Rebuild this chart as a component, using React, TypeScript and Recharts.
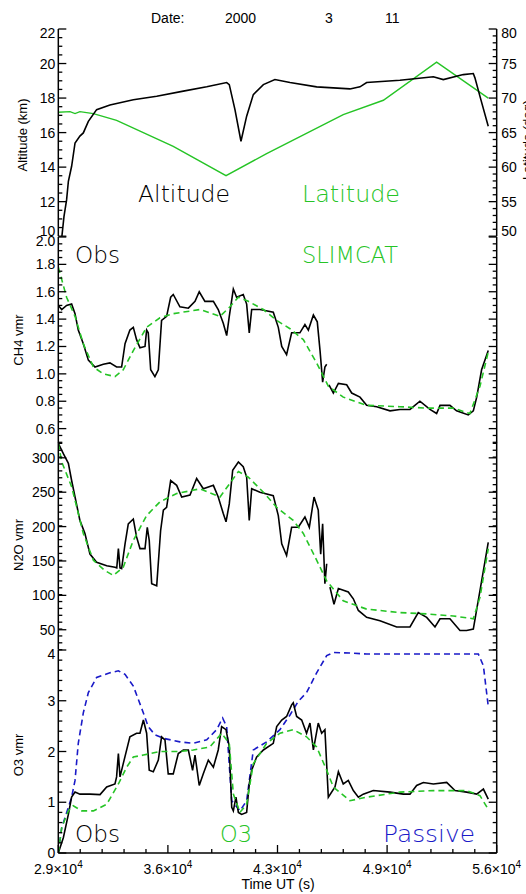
import React from "react";
import { LineChart, Line, XAxis, YAxis } from "recharts";

type P = [number, number | null];

// time in kiloseconds (UT), value
const ALTITUDE_KM: P[] = [
  [29.21, 9.9], [29.35, 11.15], [29.51, 12.1], [29.62, 13.18], [29.82, 14.05], [30.03, 15.4], [30.33, 15.8],
  [30.54, 15.98], [30.85, 16.65], [31.36, 17.33], [32.18, 17.6], [33.62, 17.9], [35.06, 18.1],
  [36.7, 18.4], [38.14, 18.65], [39.37, 18.9], [39.53, 18.78], [39.88, 17.33], [40.25, 15.5],
  [40.6, 16.95], [41.01, 18.2], [41.63, 18.78], [42.34, 19.07], [43.27, 18.9], [44.91, 18.65],
  [46.96, 18.53], [47.58, 18.65], [47.99, 18.9], [50.04, 19.03], [52.1, 19.23], [52.71, 19.07],
  [53.94, 19.36], [54.56, 19.42], [54.66, 19.17], [54.97, 18.1], [55.48, 16.37],
];

const LATITUDE_DEG: P[] = [
  [29.0, 67.94], [29.72, 68.04], [30.03, 67.75], [30.33, 68.04], [31.16, 67.75], [32.59, 66.78],
  [36.08, 63.0], [39.33, 58.77], [41.83, 61.95], [46.55, 67.6], [49.02, 69.68], [52.3, 75.2],
  [55.48, 70.0],
];

const CH4_OBS: P[] = [
  [29.0, 1.5], [29.21, 1.47], [29.51, 1.5], [29.82, 1.51], [30.03, 1.44], [30.23, 1.32], [30.54, 1.22],
  [30.85, 1.1], [31.26, 1.05], [31.77, 1.07], [32.18, 1.08], [32.59, 1.05], [32.9, 1.05], [33.11, 1.22],
  [33.41, 1.32], [33.62, 1.34], [33.82, 1.25], [34.03, 1.19], [34.34, 1.2], [34.44, 1.32], [34.54, 1.3],
  [34.69, 1.03], [34.95, 0.98], [35.16, 1.03], [35.36, 1.39], [35.67, 1.42], [35.92, 1.56], [36.08, 1.58],
  [36.49, 1.49], [37.01, 1.48], [37.42, 1.53], [37.68, 1.6], [38.03, 1.53], [38.55, 1.53], [38.85, 1.47],
  [39.16, 1.37], [39.37, 1.28], [39.53, 1.42], [39.78, 1.62], [39.98, 1.56], [40.39, 1.58], [40.6, 1.51],
  [40.76, 1.3], [40.91, 1.47], [41.42, 1.47], [42.24, 1.45], [42.55, 1.34], [42.76, 1.2], [43.06, 1.14],
  [43.37, 1.3], [43.88, 1.3], [44.19, 1.36], [44.4, 1.32], [44.71, 1.43], [44.95, 1.38], [45.12, 1.17],
  [45.28, 0.94], [45.42, 1.05], [45.53, 1.07], [45.6, null], [45.67, 0.92], [45.94, 0.86], [46.25, 0.93],
  [46.76, 0.92], [47.07, 0.86], [47.58, 0.83], [47.99, 0.77], [48.61, 0.76], [49.43, 0.73], [50.04, 0.74],
  [50.66, 0.74], [51.27, 0.8], [51.89, 0.74], [52.3, 0.71], [52.51, 0.77], [53.12, 0.77], [53.53, 0.73],
  [54.25, 0.7], [54.56, 0.73], [54.77, 0.83], [55.07, 1.03], [55.48, 1.17],
];

const CH4_SLIMCAT: P[] = [
  [29.0, 1.78], [29.51, 1.56], [30.03, 1.42], [30.54, 1.22], [31.16, 1.05], [31.77, 1.0], [32.49, 0.98],
  [33.0, 1.03], [33.62, 1.17], [34.44, 1.34], [35.26, 1.41], [36.08, 1.44], [37.73, 1.47], [38.96, 1.42],
  [39.57, 1.49], [40.09, 1.56], [40.7, 1.53], [41.63, 1.47], [42.45, 1.39], [43.27, 1.33], [44.09, 1.25],
  [44.91, 1.08], [45.63, 0.91], [46.55, 0.83], [47.99, 0.77], [50.04, 0.76], [51.69, 0.75], [53.33, 0.75],
  [54.35, 0.71], [54.97, 0.91], [55.48, 1.16],
];

const N2O_OBS: P[] = [
  [29.0, 321], [29.31, 306], [29.62, 292], [29.82, 267], [30.03, 243], [30.33, 209], [30.64, 190],
  [30.95, 160], [31.36, 148], [31.98, 143], [32.49, 141], [32.6, 140], [32.7, 168], [32.8, 140],
  [32.9, 139], [33.11, 175], [33.31, 204], [33.62, 211], [33.82, 185], [34.03, 168], [34.34, 168],
  [34.48, 199], [34.6, 180], [34.75, 117], [35.06, 114], [35.3, 194], [35.47, 224], [35.67, 228],
  [35.92, 267], [36.29, 260], [36.6, 243], [37.11, 246], [37.52, 270], [37.93, 255], [38.55, 260],
  [38.85, 243], [39.16, 219], [39.33, 207], [39.53, 233], [39.74, 282], [40.09, 294], [40.39, 287],
  [40.6, 272], [40.76, 209], [40.91, 255], [41.42, 250], [42.24, 245], [42.55, 216], [42.76, 175],
  [43.06, 158], [43.37, 199], [43.78, 199], [44.19, 214], [44.46, 199], [44.75, 243], [45.01, 224],
  [45.16, 160], [45.28, 204], [45.42, 117], [45.53, 146], [45.6, null], [45.73, 112], [45.98, 87],
  [46.25, 110], [46.86, 105], [47.17, 95], [47.48, 78], [47.99, 68], [48.81, 63], [49.84, 54],
  [50.66, 54], [51.17, 75], [51.69, 68], [52.2, 54], [52.51, 66], [53.12, 66], [53.74, 49], [54.15, 49],
  [54.56, 51], [54.97, 107], [55.48, 177],
];

const N2O_SLIMCAT: P[] = [
  [29.0, 321], [29.21, 294], [29.82, 258], [30.54, 190], [31.16, 151], [31.87, 136], [32.39, 129],
  [33.0, 141], [33.62, 180], [34.44, 216], [35.26, 236], [36.29, 248], [37.73, 255], [38.96, 243],
  [39.57, 263], [40.09, 280], [40.7, 272], [41.63, 250], [42.45, 228], [43.47, 209], [44.09, 190],
  [44.81, 156], [45.53, 121], [46.55, 92], [47.99, 80], [50.04, 75], [51.69, 73], [53.33, 70],
  [54.56, 66], [54.97, 97], [55.48, 168],
];

const O3_OBS: P[] = [
  [29.0, 0], [29.31, 0.3], [29.62, 0.76], [29.82, 1.1], [30.03, 1.2], [30.33, 1.16], [30.95, 1.16],
  [31.57, 1.15], [31.98, 1.3], [32.49, 1.36], [32.59, 1.5], [32.7, 1.96], [32.8, 1.5], [33.0, 1.76],
  [33.41, 2.29], [33.82, 2.36], [34.03, 2.36], [34.24, 2.62], [34.44, 2.36], [34.6, 1.63], [34.85, 1.6],
  [35.16, 1.83], [35.36, 2.29], [35.57, 2.23], [35.77, 1.56], [36.08, 1.56], [36.39, 1.96], [36.7, 2.03],
  [37.01, 2.03], [37.27, 1.63], [37.42, 1.93], [37.68, 1.33], [37.93, 1.56], [38.24, 1.83], [38.55, 1.69],
  [38.85, 2.03], [39.06, 2.49], [39.33, 2.43], [39.53, 2.09], [39.68, 0.9], [39.78, 0.83], [39.94, 1.1],
  [40.09, 0.8], [40.29, 0.76], [40.6, 0.8], [40.76, 1.36], [40.91, 1.63], [41.21, 1.89], [41.63, 2.03],
  [42.24, 2.16], [42.45, 2.49], [42.76, 2.62], [43.06, 2.69], [43.37, 2.92], [43.47, 2.96], [43.68, 2.69],
  [43.99, 2.62], [44.29, 2.36], [44.5, 2.56], [44.71, 2.03], [45.01, 2.56], [45.22, 2.36], [45.42, 2.43],
  [45.63, 1.1], [46.04, 1.3], [46.25, 1.6], [46.55, 1.36], [46.86, 1.43], [47.17, 1.23], [47.48, 1.1],
  [47.78, 1.16], [48.4, 1.23], [49.43, 1.2], [50.25, 1.16], [50.66, 1.16], [51.07, 1.33], [51.48, 1.39],
  [52.1, 1.36], [52.92, 1.39], [53.43, 1.23], [54.15, 1.2], [54.77, 1.16], [55.18, 1.26], [55.48, 1.06],
];

const O3_SLIMCAT: P[] = [
  [29.0, 0], [29.21, 0.5], [29.62, 0.83], [29.92, 0.93], [30.44, 0.83], [31.16, 0.83], [31.98, 0.96],
  [32.7, 1.36], [33.21, 1.69], [33.62, 1.89], [34.24, 1.93], [35.26, 2.0], [36.49, 2.0], [37.31, 2.03],
  [38.34, 2.09], [39.06, 2.36], [39.53, 2.16], [39.78, 1.16], [40.19, 0.8], [40.6, 0.96], [41.01, 1.76],
  [41.83, 2.16], [42.65, 2.36], [43.47, 2.43], [44.29, 2.29], [44.91, 2.09], [45.53, 1.63], [45.94, 1.3],
  [46.96, 1.03], [47.99, 1.1], [50.04, 1.2], [52.1, 1.23], [54.15, 1.23], [54.97, 1.13], [55.48, 0.86],
];

const O3_PASSIVE: P[] = [
  [29.0, 0], [29.21, 0.5], [29.62, 0.9], [29.82, 1.1], [30.03, 1.43], [30.23, 2.16], [30.54, 2.76],
  [30.85, 3.16], [31.36, 3.46], [32.18, 3.55], [32.7, 3.59], [33.11, 3.52], [33.62, 3.29], [34.24, 2.76],
  [34.54, 2.49], [34.95, 2.33], [35.47, 2.26], [36.49, 2.19], [37.31, 2.16], [38.14, 2.23], [38.75, 2.43],
  [39.12, 2.66], [39.37, 2.49], [39.68, 1.03], [40.19, 0.83], [40.6, 1.03], [41.01, 2.03], [41.83, 2.19],
  [42.65, 2.43], [43.27, 2.72], [43.78, 2.99], [44.29, 3.16], [44.91, 3.55], [45.53, 3.89], [45.94, 3.95],
  [46.96, 3.94], [47.99, 3.92], [50.04, 3.92], [52.1, 3.92], [54.87, 3.92], [55.18, 3.69], [55.48, 2.89],
];

const X_DOMAIN: [number, number] = [29000, 56000];
const X_TOP_MAJOR = [30000, 35000, 40000, 45000, 50000, 55000];
const X_LABEL_TICKS = [29000, 35750, 42500, 49250, 56000];
const X_LABELS = ["2.9", "3.6", "4.3", "4.9", "5.6"];

const ALT_MAJOR = [10, 12, 14, 16, 18, 20, 22];
const LAT_MAJOR = [50, 55, 60, 65, 70, 75, 80];
const CH4_MAJOR = [0.6, 0.8, 1.0, 1.2, 1.4, 1.6, 1.8, 2.0];
const N2O_MAJOR = [50, 100, 150, 200, 250, 300];
const O3_MAJOR = [0, 1, 2, 3, 4];

const GREEN = "#26c426";
const BLUE = "#1a1ac8";
const FONT = "'Liberation Sans', Arial, sans-serif";
const BIGFONT = "'DejaVu Sans', 'Liberation Sans', sans-serif";

const W = 526;
const LEFT_W = 58.3;
const RIGHT_W = 29.3;

function steps(a: number, b: number, s: number): number[] {
  const out: number[] = [];
  const n = Math.round((b - a) / s);
  for (let i = 0; i <= n; i++) out.push(+(a + i * s).toFixed(6));
  return out;
}

const rows = (pts: P[]) => pts.map(([t, v]) => ({ t: t * 1000, v }));

type Side = "left" | "right" | "top" | "bottom";

function makeTick(
  side: Side,
  majors: number[],
  label?: (v: number) => React.ReactNode,
  domain?: [number, number],
  shiftMin = true
) {
  return (props: any) => {
    const { x, y, payload } = props;
    const v = payload.value as number;
    const major = majors.some((m) => Math.abs(m - v) < 1e-6);
    const len = major ? 8 : 4;
    let line: React.ReactNode = null;
    if (side === "left") line = <line x1={x} x2={x + len} y1={y} y2={y} stroke="#000" strokeWidth={1.3} />;
    if (side === "right") line = <line x1={x} x2={x - len} y1={y} y2={y} stroke="#000" strokeWidth={1.3} />;
    if (side === "top") line = <line x1={x} x2={x} y1={y} y2={y + len} stroke="#000" strokeWidth={1.3} />;
    if (side === "bottom") line = <line x1={x} x2={x} y1={y} y2={y - len} stroke="#000" strokeWidth={1.3} />;
    let txt: React.ReactNode = null;
    if (major && label) {
      const content = label(v);
      let dy = 5;
      if (domain) {
        if (Math.abs(v - domain[1]) < 1e-6) dy += 4;
        if (shiftMin && Math.abs(v - domain[0]) < 1e-6) dy -= 5;
      }
      if (content !== null) {
        if (side === "left")
          txt = <text x={x - 3} y={y + dy} textAnchor="end" fontSize={14} fontFamily={FONT} fill="#000">{content}</text>;
        if (side === "right")
          txt = <text x={x + 4.5} y={y + dy} textAnchor="start" fontSize={14} fontFamily={FONT} fill="#000">{content}</text>;
        if (side === "bottom")
          txt = <text x={x} y={y + 20.5} textAnchor="middle" fontSize={14} fontFamily={FONT} fill="#000">{content}</text>;
      }
    }
    return (
      <g>
        {line}
        {txt}
      </g>
    );
  };
}

const AXIS_LINE = { stroke: "#000", strokeWidth: 1.5 };

interface PanelProps {
  top: number;
  plotH: number;
  yDomain: [number, number];
  yMajor: number[];
  yMinorStep: number;
  yFmt: (v: number) => string;
  rDomain?: [number, number];
  rMajor?: number[];
  rMinorStep?: number;
  bottomLabels?: boolean;
  children: React.ReactNode;
}

function Panel(p: PanelProps) {
  const bottomH = p.bottomLabels ? 42 : 0;
  const yTicks = steps(p.yDomain[0], p.yDomain[1], p.yMinorStep).filter((v) => v >= p.yDomain[0] - 1e-9);
  const yMinorAll = Array.from(new Set([...yTicks, ...p.yMajor.filter((m) => m >= p.yDomain[0] && m <= p.yDomain[1])])).sort((a, b) => a - b);
  const rDomain = p.rDomain || p.yDomain;
  const rMajor = p.rMajor || p.yMajor;
  const rTicks = p.rDomain
    ? steps(p.rDomain[0], p.rDomain[1], p.rMinorStep || 1)
    : yMinorAll;
  const topTicks = steps(29000, 56000, 1000);
  const botTicks = p.bottomLabels ? steps(29000, 56000, 1350) : topTicks;
  const botMajor = p.bottomLabels ? X_LABEL_TICKS : X_TOP_MAJOR;
  const xLabel = p.bottomLabels
    ? (v: number) => {
        const i = X_LABEL_TICKS.findIndex((m) => Math.abs(m - v) < 1e-6);
        return (
          <>
            {X_LABELS[i]}×10<tspan dy={-6} fontSize={10}>4</tspan>
          </>
        );
      }
    : undefined;
  const shiftMin = !p.bottomLabels;
  return (
    <div style={{ position: "absolute", left: 0, top: p.top }}>
      <LineChart width={W} height={p.plotH + bottomH} margin={{ top: 0, right: 0, bottom: 0, left: 0 }}>
        <XAxis
          xAxisId="b"
          dataKey="t"
          type="number"
          orientation="bottom"
          domain={X_DOMAIN}
          allowDataOverflow
          ticks={botTicks}
          interval={0}
          height={bottomH}
          tickSize={0}
          tickMargin={0}
          axisLine={AXIS_LINE}
          tickLine={false}
          tick={makeTick("bottom", botMajor, xLabel)}
        />
        <XAxis
          xAxisId="t"
          dataKey="t"
          type="number"
          orientation="top"
          domain={X_DOMAIN}
          allowDataOverflow
          ticks={topTicks}
          interval={0}
          height={0}
          tickSize={0}
          tickMargin={0}
          axisLine={AXIS_LINE}
          tickLine={false}
          tick={makeTick("top", X_TOP_MAJOR)}
        />
        <YAxis
          yAxisId="L"
          type="number"
          orientation="left"
          domain={p.yDomain}
          allowDataOverflow
          ticks={yMinorAll}
          interval={0}
          width={LEFT_W}
          tickSize={0}
          tickMargin={0}
          axisLine={AXIS_LINE}
          tickLine={false}
          tick={makeTick("left", p.yMajor, p.yFmt, p.yDomain, shiftMin)}
        />
        <YAxis
          yAxisId="R"
          type="number"
          orientation="right"
          domain={rDomain}
          allowDataOverflow
          ticks={rTicks}
          interval={0}
          width={RIGHT_W}
          tickSize={0}
          tickMargin={0}
          axisLine={AXIS_LINE}
          tickLine={false}
          tick={makeTick("right", rMajor, p.rDomain ? (v: number) => String(v) : undefined, rDomain, shiftMin)}
        />
        {p.children}
      </LineChart>
    </div>
  );
}

function series(data: P[], color: string, dashed: boolean, axis = "L", width = 1.5) {
  return (
    <Line
      key={color + axis + (dashed ? "d" : "s")}
      data={rows(data)}
      dataKey="v"
      xAxisId="b"
      yAxisId={axis}
      type="linear"
      stroke={color}
      strokeWidth={width}
      strokeDasharray={dashed ? "6 4" : undefined}
      dot={false}
      activeDot={false}
      isAnimationActive={false}
      connectNulls={false}
    />
  );
}

export default function App() {
  const big = { fontFamily: BIGFONT, fontSize: 23, fontWeight: 200 as const };
  return (
    <div style={{ position: "absolute", left: 0, top: 0, width: W, height: 894, background: "#fff", overflow: "hidden" }}>
      <style>{`.recharts-surface{overflow:visible}`}</style>
      <Panel top={29.3} plotH={207.2} yDomain={[10, 22]} yMajor={ALT_MAJOR} yMinorStep={0.5} yFmt={(v) => String(v)}
        rDomain={[50, 80]} rMajor={LAT_MAJOR} rMinorStep={1}>
        {series(LATITUDE_DEG, GREEN, false, "R", 1.4)}
        {series(ALTITUDE_KM, "#000", false, "L", 1.6)}
      </Panel>
      <Panel top={236.5} plotH={205.3} yDomain={[0.5, 2.0]} yMajor={CH4_MAJOR} yMinorStep={0.05} yFmt={(v) => v.toFixed(1)}>
        {series(CH4_OBS, "#000", false, "L", 1.6)}
        {series(CH4_SLIMCAT, GREEN, true, "L", 1.6)}
      </Panel>
      <Panel top={441.8} plotH={207.7} yDomain={[21, 323]} yMajor={N2O_MAJOR} yMinorStep={10} yFmt={(v) => String(v)}>
        {series(N2O_OBS, "#000", false, "L", 1.6)}
        {series(N2O_SLIMCAT, GREEN, true, "L", 1.6)}
      </Panel>
      <Panel top={649.5} plotH={203} yDomain={[0, 4]} yMajor={O3_MAJOR} yMinorStep={0.2} yFmt={(v) => String(v)} bottomLabels>
        {series(O3_PASSIVE, BLUE, true, "L", 1.6)}
        {series(O3_OBS, "#000", false, "L", 1.6)}
        {series(O3_SLIMCAT, GREEN, true, "L", 1.6)}
      </Panel>
      <svg width={W} height={894} style={{ position: "absolute", left: 0, top: 0, pointerEvents: "none" }}>
        <g fontFamily={FONT} fontSize={14} fill="#000">
          <text x={151} y={22.5}>Date:</text>
          <text x={225} y={22.5}>2000</text>
          <text x={325} y={22.5}>3</text>
          <text x={385} y={22.5}>11</text>
          <text x={278} y={889} textAnchor="middle">Time UT (s)</text>
        </g>
        <g fontFamily={FONT} fontSize={13} fill="#000">
          <text transform="translate(27,135) rotate(-90)" textAnchor="middle">Altitude (km)</text>
          <text transform="translate(23,340) rotate(-90)" textAnchor="middle">CH4  vmr</text>
          <text transform="translate(23,545) rotate(-90)" textAnchor="middle">N2O vmr</text>
          <text transform="translate(23,755) rotate(-90)" textAnchor="middle">O3 vmr</text>
          <text transform="translate(532,140) rotate(-90)" textAnchor="middle">Latitude (deg)</text>
        </g>
        <g {...big}>
          <text x={138} y={202} fill="#000" textLength={92} lengthAdjust="spacingAndGlyphs">Altitude</text>
          <text x={302} y={202} fill={GREEN} textLength={98} lengthAdjust="spacingAndGlyphs">Latitude</text>
          <text x={75} y={263} fill="#000" textLength={45} lengthAdjust="spacingAndGlyphs">Obs</text>
          <text x={302} y={263} fill={GREEN} textLength={96} lengthAdjust="spacingAndGlyphs">SLIMCAT</text>
          <text x={75} y={841.5} fill="#000" textLength={45} lengthAdjust="spacingAndGlyphs">Obs</text>
          <text x={220} y={841.5} fill={GREEN} textLength={32} lengthAdjust="spacingAndGlyphs">O3</text>
          <text x={383} y={841.5} fill={BLUE} textLength={92} lengthAdjust="spacingAndGlyphs">Passive</text>
        </g>
      </svg>
    </div>
  );
}
